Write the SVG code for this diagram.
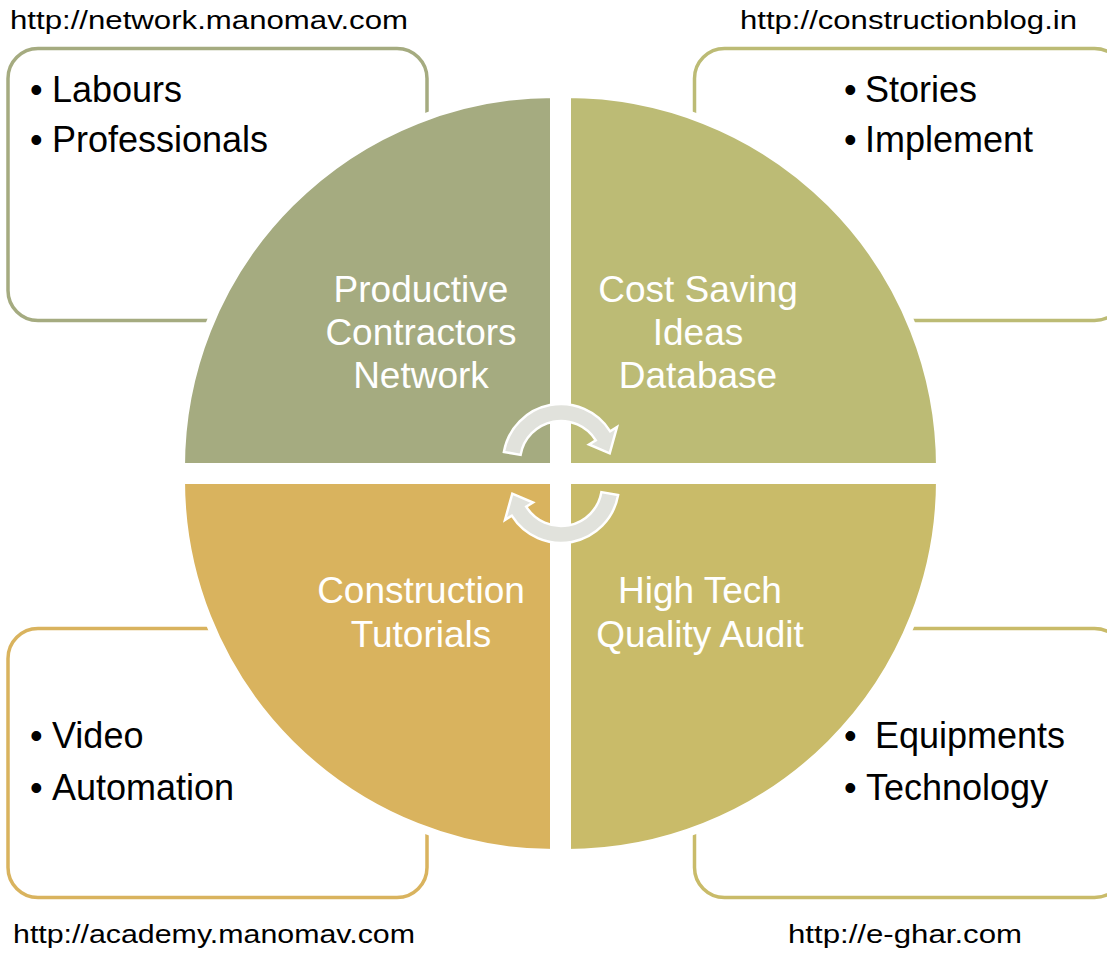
<svg xmlns="http://www.w3.org/2000/svg" width="1107" height="961" viewBox="0 0 1107 961">
  <style>
    .box { fill: #ffffff; stroke-width: 3.5; }
    .quad { stroke: #ffffff; stroke-width: 8; stroke-linejoin: miter; }
    .lbl { font-family: "Liberation Sans", Arial, sans-serif; font-size: 37px; fill: #ffffff; text-anchor: middle; }
    .bul { font-family: "Liberation Sans", Arial, sans-serif; font-size: 36px; fill: #000000; }
    .url { font-family: "Liberation Sans", Arial, sans-serif; font-size: 26px; fill: #000000; }
    .arrow { fill: #E1E2DC; stroke: #ffffff; stroke-width: 2.5; stroke-linejoin: miter; }
  </style>
  <rect width="1107" height="961" fill="#ffffff"/>

  <g id="box-tl">
    <rect class="box" x="8" y="48.5" width="419" height="272" rx="30" stroke="#A5AB80"/>
    <text class="bul" x="30" y="102">•</text><text class="bul" x="52" y="102">Labours</text>
    <text class="bul" x="30" y="152">•</text><text class="bul" x="52" y="152">Professionals</text>
  </g>
  <g id="box-tr">
    <rect class="box" x="694.5" y="48.5" width="430" height="272" rx="30" stroke="#BCBB75"/>
    <text class="bul" x="844" y="102">•</text><text class="bul" x="865" y="102">Stories</text>
    <text class="bul" x="844" y="152">•</text><text class="bul" x="865" y="152">Implement</text>
  </g>
  <g id="box-bl">
    <rect class="box" x="8" y="628.5" width="419" height="269" rx="30" stroke="#D9B35E"/>
    <text class="bul" x="30" y="748">•</text><text class="bul" x="52" y="748">Video</text>
    <text class="bul" x="30" y="800">•</text><text class="bul" x="52" y="800">Automation</text>
  </g>
  <g id="box-br">
    <rect class="box" x="694.5" y="628.5" width="430" height="269" rx="30" stroke="#C9BB69"/>
    <text class="bul" x="844" y="748">•</text><text class="bul" x="875" y="748">Equipments</text>
    <text class="bul" x="844" y="800">•</text><text class="bul" x="866" y="800">Technology</text>
  </g>

  <g id="quad-tl">
    <path class="quad" fill="#A5AB80" d="M554 467 L181 467 A373 373 0 0 1 554 94 Z"/>
    <text class="lbl" x="421" y="302">Productive</text>
    <text class="lbl" x="421" y="345">Contractors</text>
    <text class="lbl" x="421" y="388">Network</text>
  </g>
  <g id="quad-tr">
    <path class="quad" fill="#BCBB75" d="M567 467 L567 94 A373 373 0 0 1 940 467 Z"/>
    <text class="lbl" x="698" y="302">Cost Saving</text>
    <text class="lbl" x="698" y="345">Ideas</text>
    <text class="lbl" x="698" y="388">Database</text>
  </g>
  <g id="quad-bl">
    <path class="quad" fill="#D9B35E" d="M554 480 L554 853 A373 373 0 0 1 181 480 Z"/>
    <text class="lbl" x="421" y="603">Construction</text>
    <text class="lbl" x="421" y="647">Tutorials</text>
  </g>
  <g id="quad-br">
    <path class="quad" fill="#C9BB69" d="M567 480 L940 480 A373 373 0 0 1 567 853 Z"/>
    <text class="lbl" x="700" y="603">High Tech</text>
    <text class="lbl" x="700" y="647">Quality Audit</text>
  </g>

  <g id="connectors">
    <path class="arrow" d="M503.9 451.9 A58 58 0 0 1 610.2 431.3 L617 427 L609.7 453.4 L589 444.5 L595.8 440.3 A41 41 0 0 0 520.6 454.9 Z"/>
    <path class="arrow" transform="rotate(180 561 473.5)" d="M503.9 451.9 A58 58 0 0 1 610.2 431.3 L617 427 L609.7 453.4 L589 444.5 L595.8 440.3 A41 41 0 0 0 520.6 454.9 Z"/>
  </g>

  <g id="urls">
    <text class="url" x="10" y="29" textLength="398" lengthAdjust="spacingAndGlyphs">http://network.manomav.com</text>
    <text class="url" x="740" y="29" textLength="337" lengthAdjust="spacingAndGlyphs">http://constructionblog.in</text>
    <text class="url" x="13" y="943" textLength="402" lengthAdjust="spacingAndGlyphs">http://academy.manomav.com</text>
    <text class="url" x="788" y="943" textLength="234" lengthAdjust="spacingAndGlyphs">http://e-ghar.com</text>
  </g>
</svg>
